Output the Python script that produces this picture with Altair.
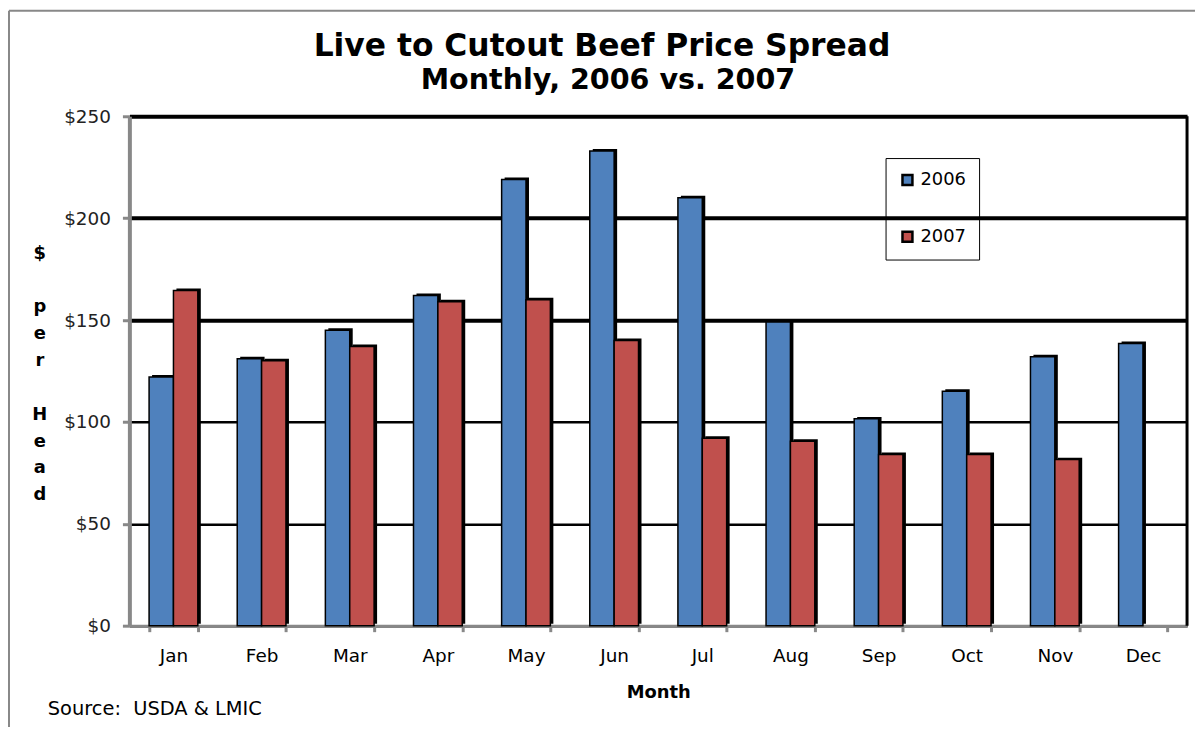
import altair as alt
import pandas as pd

months = ["Jan", "Feb", "Mar", "Apr", "May", "Jun", "Jul", "Aug", "Sep", "Oct", "Nov", "Dec"]
v2006 = [122, 131, 145, 162, 219, 233, 210, 149, 101.5, 115, 132, 138.5]
v2007 = [164.5, 130, 137, 159, 160, 140, 92, 90.5, 84, 84, 81.5, None]
series = ["2006", "2007"]
colors = ["#4F81BD", "#C0504D"]
y_ticks = [0, 50, 100, 150, 200, 250]

rows = []
for m, a, b in zip(months, v2006, v2007):
    rows.append({"Month": m, "Year": "2006", "Value": a})
    if b is not None:
        rows.append({"Month": m, "Year": "2007", "Value": b})
df = pd.DataFrame(rows)

W, H = 1063, 512
FONT = "DejaVu Sans"
X0, Y0 = 130, 115  # plot origin in page pixels
NB = "\u00a0"
P_IN, P_OUT = 0.447, 0.2235
STEP = W / (len(months) - P_IN + 2 * P_OUT)
BW = STEP * (1 - P_IN)
SH = 3  # shadow offset, px

x_enc = alt.X("Month:N", sort=months,
              scale=alt.Scale(paddingInner=P_IN, paddingOuter=P_OUT),
              axis=alt.Axis(title="Month", labelAngle=0, labelFontSize=18.5, labelFont=FONT,
                            labelColor="black", labelPadding=15,
                            titleFontSize=18, titleFont=FONT, titleFontWeight="bold",
                            titleColor="black", titlePadding=19,
                            domainColor="#888888", domainWidth=3,
                            tickColor="#888888", tickWidth=3, tickSize=6, tickBand="extent"))
y_enc = alt.Y("Value:Q", scale=alt.Scale(domain=[0, 250], nice=False),
              axis=alt.Axis(values=y_ticks, format="$.0f", title=None,
                            labelFontSize=18.5, labelFont=FONT, labelColor="#222222",
                            labelPadding=12,
                            domainColor="#888888", domainWidth=4,
                            tickColor="#888888", tickWidth=3, tickSize=7,
                            grid=True, gridColor="black",
                            gridWidth={"condition": {"test": "datum.value >= 150", "value": 4},
                                       "value": 2.5}))

shadow = alt.Chart(df).mark_bar(color="black", yOffset=-2).encode(
    x=x_enc,
    xOffset=alt.XOffset("Year:N", scale=alt.Scale(domain=series, paddingInner=0,
                                                  range=[SH, SH + BW])),
    y=y_enc)

bars = alt.Chart(df).mark_bar(stroke="black", strokeWidth=1.5).encode(
    x=x_enc,
    xOffset=alt.XOffset("Year:N", scale=alt.Scale(domain=series, paddingInner=0,
                                                  range=[0, BW])),
    y=y_enc,
    color=alt.Color("Year:N", scale=alt.Scale(domain=series, range=colors),
                    legend=alt.Legend(title=None, orient="none", legendX=760, legendY=42,
                                      symbolType="square", symbolSize=100,
                                      symbolStrokeColor="black", symbolStrokeWidth=2.5,
                                      labelFontSize=18, labelFont=FONT, labelColor="black",
                                      labelOffset=4,
                                      rowPadding=37, padding=13,
                                      strokeColor="black")),
)

right_border = alt.Chart(pd.DataFrame({"a": [0]})).mark_rule(color="black", strokeWidth=3).encode(
    x=alt.value(W), y=alt.value(0), y2=alt.value(H))

outer_left = alt.Chart(pd.DataFrame({"a": [0]})).mark_rule(color="#888888", strokeWidth=2).encode(
    x=alt.value(9 - X0), y=alt.value(9 - Y0), y2=alt.value(700))
outer_top = alt.Chart(pd.DataFrame({"a": [0]})).mark_rule(color="#888888", strokeWidth=2).encode(
    x=alt.value(9 - X0), x2=alt.value(W + 20), y=alt.value(9 - Y0))

title_df = pd.DataFrame({"t": ["Live to Cutout Beef Price Spread"]})
subtitle_df = pd.DataFrame({"t": ["Monthly, 2006 vs. 2007"]})
source_df = pd.DataFrame({"t": ["Source:" + NB + NB + "USDA & LMIC"]})
ytitle_parts = ["$", "p\ne\nr", "H\ne\na\nd"]
ytitle_line_offsets = [0, 2, 6]  # line index at which each part starts
LH = 27

title = alt.Chart(title_df).mark_text(
    align="center", baseline="alphabetic", fontSize=31.5, fontWeight="bold", font=FONT,
    color="black").encode(text="t:N", x=alt.value(605 - X0), y=alt.value(54 - Y0))
subtitle = alt.Chart(subtitle_df).mark_text(
    align="center", baseline="alphabetic", fontSize=28.7, fontWeight="bold", font=FONT,
    color="black").encode(text="t:N", x=alt.value(611 - X0), y=alt.value(88 - Y0))
source = alt.Chart(source_df).mark_text(
    align="left", baseline="alphabetic", fontSize=19.5, font=FONT, color="black").encode(
    text="t:N", x=alt.value(48 - X0), y=alt.value(717 - Y0))

ytitle_layers = []
for part, off in zip(ytitle_parts, ytitle_line_offsets):
    ytitle_layers.append(
        alt.Chart(pd.DataFrame({"t": [part]})).mark_text(
            align="center", baseline="top", fontSize=18, fontWeight="bold", font=FONT,
            color="black", lineBreak="\n", lineHeight=LH).encode(
            text="t:N", x=alt.value(40 - X0), y=alt.value(129 + off * LH)))

chart = alt.layer(shadow, bars, right_border, outer_left, outer_top, title, subtitle, source,
                  *ytitle_layers).resolve_scale(xOffset="independent").properties(
    width=W, height=H,
    autosize=alt.AutoSizeParams(type="none"),
    padding={"left": X0 - 8, "top": Y0 - 8, "right": 8, "bottom": 100},
).configure_view(stroke=None).configure_legend(strokeWidth=3).configure(background="white")

chart.save("out.html", embed_options={"renderer": "svg", "actions": False})
